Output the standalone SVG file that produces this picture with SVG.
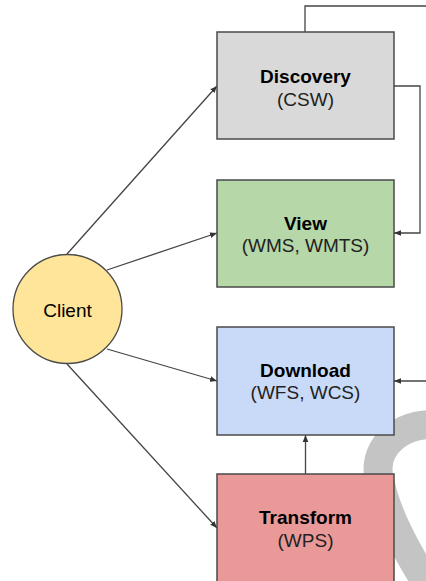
<svg xmlns="http://www.w3.org/2000/svg" width="426" height="581" viewBox="0 0 426 581">
  <defs>
    <marker id="arrow" viewBox="0 0 10 10" refX="10" refY="5" markerWidth="7" markerHeight="7" markerUnits="userSpaceOnUse" orient="auto">
      <path d="M0,1 L10,5 L0,9 Z" fill="#333"/>
    </marker>
    <style>
      .box { stroke: #4a4a4a; stroke-width: 1.5; }
      .title { font-family: "Liberation Sans", Arial, sans-serif; font-size: 19px; font-weight: bold; fill: #000; text-anchor: middle; }
      .sub { font-family: "Liberation Sans", Arial, sans-serif; font-size: 19px; fill: #222; text-anchor: middle; }
      .edge { fill: none; stroke: #444; stroke-width: 1.3; }
      .arr { marker-end: url(#arrow); }
    </style>
  </defs>
  <rect width="426" height="581" fill="#fff"/>

  <!-- background swash -->
  <path d="M 445 426 C 405 418, 372 445, 379 478 C 385 510, 402 545, 434 595" fill="none" stroke="#c4c4c4" stroke-width="29"/>

  <g id="connectors">
    <line class="edge arr" x1="67" y1="254" x2="217" y2="86"/>
    <line class="edge arr" x1="107" y1="270" x2="217" y2="233"/>
    <line class="edge arr" x1="107" y1="349" x2="217" y2="381"/>
    <line class="edge arr" x1="67" y1="364" x2="217" y2="528"/>
    <polyline class="edge" points="305,32 305,6 430,6"/>
    <polyline class="edge arr" points="394,86 420,86 420,233 394,233"/>
    <line class="edge arr" x1="430" y1="381" x2="394" y2="381"/>
    <line class="edge arr" x1="305.5" y1="474" x2="305.5" y2="435"/>
  </g>

  <g id="client">
    <circle cx="67.5" cy="309" r="54.5" fill="#ffe599" stroke="#4a4a4a" stroke-width="1.3"/>
    <text class="sub" x="67.5" y="316.5" style="fill:#000">Client</text>
  </g>

  <g id="discovery">
    <rect class="box" x="217" y="32" width="177" height="107" fill="#d9d9d9"/>
    <text class="title" x="305.5" y="83">Discovery</text>
    <text class="sub" x="305.5" y="106">(CSW)</text>
  </g>

  <g id="view">
    <rect class="box" x="217" y="180" width="177" height="107" fill="#b6d7a8"/>
    <text class="title" x="305.5" y="229.5">View</text>
    <text class="sub" x="305.5" y="252">(WMS, WMTS)</text>
  </g>

  <g id="download">
    <rect class="box" x="217" y="327" width="177" height="108" fill="#c9daf8"/>
    <text class="title" x="305.5" y="376.5">Download</text>
    <text class="sub" x="305.5" y="399">(WFS, WCS)</text>
  </g>

  <g id="transform">
    <rect class="box" x="217" y="474" width="177" height="110" fill="#ea9999"/>
    <text class="title" x="305.5" y="523.5">Transform</text>
    <text class="sub" x="305.5" y="546.5">(WPS)</text>
  </g>
</svg>
